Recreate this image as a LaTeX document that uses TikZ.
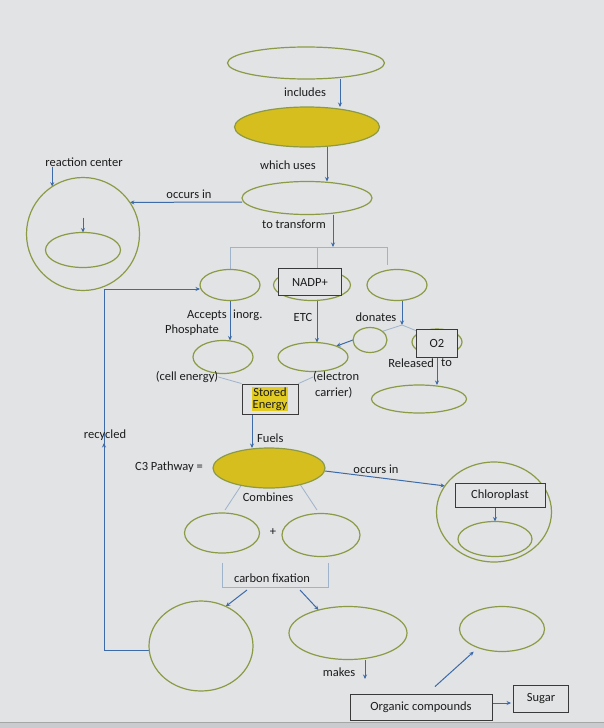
\documentclass[tikz,border=0pt]{standalone}
\usepackage{fontspec}
\setmainfont{Carlito}
\usetikzlibrary{shapes.geometric,arrows.meta,calc}
\definecolor{bgc}{HTML}{E1E3E5}
\definecolor{bgd}{HTML}{C9CBCE}
\definecolor{olv}{HTML}{8C9A45}
\definecolor{ylw}{HTML}{D6BE1F}
\definecolor{hl}{HTML}{E2CC22}
\definecolor{arc}{HTML}{3D6AA8}
\definecolor{lnc}{HTML}{9FB3CB}
\definecolor{bxc}{HTML}{3A3A3A}
\definecolor{txt}{HTML}{1C1C1C}
\newcommand\lblfont{\fontsize{12.5}{15}\selectfont}
\pgfdeclarelayer{bglayer}
\pgfdeclarelayer{edgelayer}
\pgfsetlayers{bglayer,edgelayer,main}
\tikzset{
 ell/.style={ellipse,draw=olv,line width=1.2pt,inner sep=0pt,outer sep=0pt},
 yell/.style={ell,fill=ylw},
 bx/.style={rectangle,draw=bxc,line width=0.9pt,inner sep=0pt,fill=bgc,font=\lblfont,text=txt},
 sz/.style 2 args={minimum width=#1pt,minimum height=#2pt},
 lbl/.style={inner sep=0pt,font=\lblfont,text=txt},
 arr/.style={draw=arc,line width=1pt,-{Stealth[length=4.5pt,width=4pt]}},
 ln/.style={draw=lnc,line width=0.8pt},
}
\begin{document}
\begin{tikzpicture}[x=1pt,y=-1pt]
\useasboundingbox (0,0) rectangle (604,728);
\begin{pgfonlayer}{bglayer}
\fill[bgc] (0,0) rectangle (604,728);
\fill[bgd] (0,722) rectangle (604,728);
\draw[gray!70,line width=1pt] (0,722) -- (604,722);
\end{pgfonlayer}

% nodes
\node[ell,sz={157}{32}] (top) at (306,63) {};
\node[yell,sz={145}{40}] (yel1) at (307,127) {};
\node[ell,sz={130}{33}] (e3) at (307,198) {};
\node[ell,sz={113}{113}] (rcirc) at (83,234) {};
\node[ell,sz={75}{35}] (rin) at (83,250) {};
\node[ell,sz={60}{31}] (L) at (230,285) {};
\node[ell,sz={77}{31}] (M) at (312,285) {};
\node[bx,sz={63}{27}] (nadp) at (310,282) {NADP+};
\node[ell,sz={60}{31}] (R) at (397,285) {};
\node[ell,sz={60}{33}] (atp) at (223,357) {};
\node[ell,sz={70}{29}] (nadph) at (313,357) {};
\node[ell,sz={34}{25}] (small) at (370,340) {};
\node[ell,sz={50}{26}] (o2e) at (437,342) {};
\node[bx,sz={41}{28}] (o2) at (437,343) {O2};
\node[ell,sz={95}{28}] (o2d) at (419,399) {};
\node[bx,sz={56}{30}] (stored) at (270,399) {};
\node[lbl,fill=hl,align=center,inner sep=0.5pt,font=\fontsize{12.5}{12.5}\selectfont] (stxt) at (270,399) {Stored\\Energy};
\node[yell,sz={112}{40}] (c3) at (269,468) {};
\node[ell,sz={115}{100}] (chl) at (494,512) {};
\node[bx,sz={90}{24}] (chlbox) at (500,495) {Chloroplast};
\node[ell,sz={74}{35}] (chlin) at (495,539) {};
\node[ell,sz={75}{40}] (cl) at (222,533) {};
\node[ell,sz={78}{43}] (cr) at (321,535) {};
\node[ell,sz={104}{90}] (bc) at (201,646) {};
\node[ell,sz={118}{53}] (bm) at (348,633) {};
\node[ell,sz={85}{45}] (br) at (502,629) {};
\node[bx,sz={142}{26}] (org) at (421,707) {Organic compounds};
\node[bx,sz={55}{27}] (sugar) at (541,699) {Sugar};

% labels
\node[lbl] (l1) at (305,92) {includes};
\node[lbl] (l2) at (288,165) {which uses};
\node[lbl] (l3) at (189,194) {occurs in};
\node[lbl] (lrc) at (84,162) {reaction center};
\node[lbl] (l4) at (294,224) {to transform};
\node[lbl,anchor=east] (lacc) at (227,315) {Accepts};
\node[lbl,anchor=west] (linorg) at (233,315) {inorg.};
\node[lbl] (lph) at (192,330) {Phosphate};
\node[lbl] (letc) at (303,317) {ETC};
\node[lbl] (ldon) at (376,317) {donates};
\node[lbl] (lce) at (187,377) {(cell energy)};
\node[lbl,anchor=west] (lec) at (313,377) {(electron};
\node[lbl,anchor=west] (lcar) at (315,393) {carrier)};
\node[lbl,anchor=east] (lrel) at (434,363) {Released};
\node[lbl,anchor=west] (lto) at (441,363) {to};
\node[lbl,anchor=west] (lfuel) at (257,438) {Fuels};
\node[lbl] (lc3) at (169,467) {C3 Pathway =};
\node[lbl] (locc2) at (376,469) {occurs in};
\node[lbl] (lcomb) at (268,497) {Combines};
\node[lbl] (lplus) at (273,532) {+};
\node[lbl] (lcf) at (272,578) {carbon fixation};
\node[lbl] (lmk) at (339,672) {makes};
\node[lbl] (lrec) at (105,435) {recycled};

% coordinates
\coordinate (brk) at (333,247);
\coordinate (brkR) at (387,247);
\coordinate (jn) at (402,325);
\coordinate (cftop) at (0,563);
\coordinate (cfL) at (222,587);
\coordinate (cfR) at (328,587);
\coordinate (ca1) at (247,590);
\coordinate (ca2) at (300,590);
\coordinate (mk) at (365,679);
\coordinate (rtip) at (104,443);

\begin{pgfonlayer}{edgelayer}
\draw[arr] ([xshift=34pt]top.south) -- ([xshift=33pt]yel1.north);
\draw[arr] ([xshift=20pt]yel1.south) -- ([xshift=20pt]e3.north);
\draw[arr] ([yshift=-4pt]e3.west) -- (rcirc.34.5);
\draw[arr] (rcirc.123 |- lrc.south) -- (rcirc.123);
\draw[arr] ([yshift=15pt]rin.north) -- (rin.north);
\draw[arr] (e3.south -| brk) -- (brk);
\draw[ln] (L.north) |- (brkR) -- ([yshift=-18pt]brkR);
\draw[ln] ([xshift=7pt]nadp.north) -- ([xshift=7pt]nadp.north |- brk);
\draw[arr] (L.south) -- (L.south |- atp.north);
\draw[arr] ([xshift=5pt]M.south) -- ([xshift=5pt]M.south |- nadph.north);
\draw[arr] ([xshift=5pt]R.south) -- (jn);
\draw[ln] (jn) -- (small.35);
\draw[ln] (jn) -- (o2e.150);
\draw[arr] (small.west) -- (nadph.25);
\draw[arr] (o2.south) -- (o2.south |- o2d.north);
\draw[ln] (lce.east) -- (stored.north west);
\draw[ln] (lec.west) -- (stored.north east);
\draw[arr] ([xshift=-18pt]stored.south) -- ([xshift=-18pt]stored.south |- c3.north);
\draw[arr] ([yshift=-3pt]c3.east) -- (chl.152);
\draw[arr] (chlbox.south -| chlin.north) -- (chlin.north);
\draw[ln] (c3.212) -- ([yshift=3pt,xshift=3pt]cl.north);
\draw[ln] (c3.332) -- ([yshift=3.5pt,xshift=-4pt]cr.north);
\draw[ln] (cfL |- cftop) -- (cfL) -- (cfR) -- (cfR |- cftop);
\draw[arr] (ca1) -- (bc.58);
\draw[arr] (ca2) -- (bm.142);
\draw[arr] (bm.south -| mk) -- (mk);
\draw[arr,shorten >=2pt] ([yshift=4pt]org.east) -- ([yshift=-4pt]sugar.west);
\draw[arr,shorten >=6pt] ([xshift=14pt,yshift=7pt]org.north) -- (br.218);
\draw[arr] ([yshift=-4pt]bc.west) -- ++(-45,0) |- ([yshift=-4pt]L.west);
\draw[arr] ([yshift=-10pt]rtip) -- (rtip);
\end{pgfonlayer}
\end{tikzpicture}
\end{document}
